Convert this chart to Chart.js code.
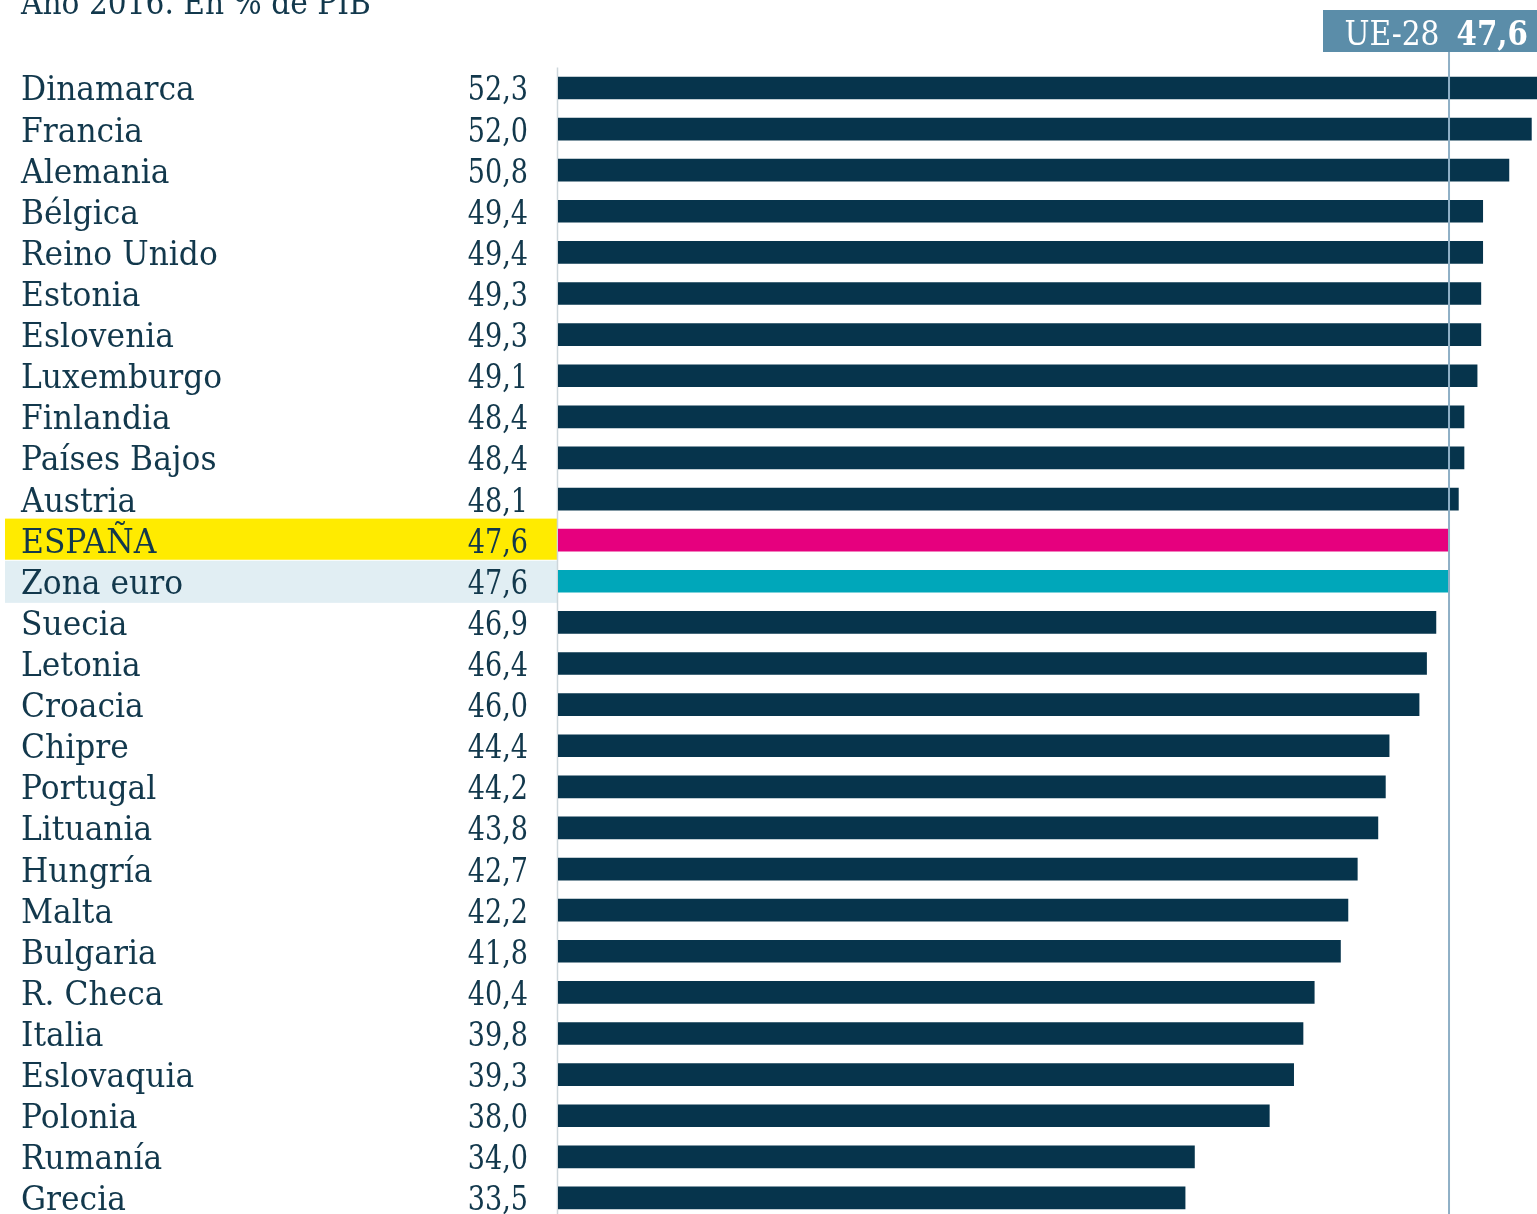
<!DOCTYPE html>
<html><head><meta charset="utf-8">
<script src="https://cdn.jsdelivr.net/npm/chart.js@4.4.1/dist/chart.umd.min.js"></script>
<style>html,body{margin:0;padding:0;overflow:hidden;background:#fff}canvas{display:block}</style>
</head><body>
<canvas id="c" width="1537" height="1230"></canvas>
<script>
const subtitle = 'Año 2016. En % de PIB';
const categories = ['Dinamarca','Francia','Alemania','Bélgica','Reino Unido','Estonia','Eslovenia','Luxemburgo','Finlandia','Países Bajos','Austria','ESPAÑA','Zona euro','Suecia','Letonia','Croacia','Chipre','Portugal','Lituania','Hungría','Malta','Bulgaria','R. Checa','Italia','Eslovaquia','Polonia','Rumanía','Grecia'];
const values = [52.3,52.0,50.8,49.4,49.4,49.3,49.3,49.1,48.4,48.4,48.1,47.6,47.6,46.9,46.4,46.0,44.4,44.2,43.8,42.7,42.2,41.8,40.4,39.8,39.3,38.0,34.0,33.5];
const refLabel = 'UE-28';
const refValue = 47.6;
const highlightSpain = 'ESPAÑA';
const highlightEuro = 'Zona euro';

const NAVY = '#06344c', TEXT = '#12384c', PINK = '#e6007e', TEAL = '#00a7ba';
const FONT = '"DejaVu Serif", serif';
const fmt = v => v.toFixed(1).replace('.', ',');
const barColors = categories.map(c => c === highlightSpain ? PINK : (c === highlightEuro ? TEAL : NAVY));

function drawText(ctx, txt, x, y, align, font, sx) {
  ctx.save();
  ctx.font = font;
  ctx.textAlign = align;
  ctx.textBaseline = 'alphabetic';
  ctx.translate(x, y);
  ctx.scale(sx, 1);
  ctx.fillText(txt, 0, 0);
  ctx.restore();
}
function textWidth(ctx, txt, font, sx) {
  ctx.save(); ctx.font = font; const w = ctx.measureText(txt).width * sx; ctx.restore(); return w;
}

const decor = {
  id: 'decor',
  beforeDatasetsDraw(chart) {
    const ctx = chart.ctx, y = chart.scales.y, area = chart.chartArea;
    const half = (y.getPixelForValue(1) - y.getPixelForValue(0)) / 2;
    ctx.save();
    categories.forEach((c, i) => {
      const cy = y.getPixelForValue(i);
      if (c === highlightSpain) { ctx.fillStyle = '#ffeb00'; ctx.fillRect(5, cy - half - 1, area.left - 6, half * 2); }
      if (c === highlightEuro) { ctx.fillStyle = '#e1eef3'; ctx.fillRect(5, cy - half, area.left - 6, half * 2 + 1); }
    });
    ctx.strokeStyle = '#cdd6db'; ctx.lineWidth = 1.5;
    ctx.beginPath(); ctx.moveTo(area.left - 0.5, area.top); ctx.lineTo(area.left - 0.5, chart.height); ctx.stroke();
    ctx.restore();
  },
  afterDatasetsDraw(chart) {
    const ctx = chart.ctx, y = chart.scales.y, x = chart.scales.x, area = chart.chartArea;
    ctx.save();
    const rx = x.getPixelForValue(refValue);
    ctx.strokeStyle = '#8fb0c6'; ctx.lineWidth = 2;
    ctx.beginPath(); ctx.moveTo(rx, 50); ctx.lineTo(rx, chart.height); ctx.stroke();
    ctx.fillStyle = '#5b8da9';
    ctx.fillRect(1323, 10, area.right - 1323, 42);
    ctx.fillStyle = '#ffffff';
    const vtxt = fmt(refValue);
    const bFont = 'bold 33px ' + FONT;
    const vw = textWidth(ctx, vtxt, bFont, 0.89);
    drawText(ctx, vtxt, 1528, 45, 'right', bFont, 0.89);
    drawText(ctx, refLabel, 1528 - vw - 17, 45, 'right', '33px ' + FONT, 0.9);
    ctx.fillStyle = TEXT;
    categories.forEach((c, i) => {
      const cy = y.getPixelForValue(i);
      drawText(ctx, c, 21, cy + 12.5, 'left', '33px ' + FONT, 0.95);
      drawText(ctx, fmt(values[i]), 528, cy + 12.5, 'right', '33px ' + FONT, 0.82);
    });
    drawText(ctx, subtitle, 21, 14, 'left', '33px ' + FONT, 0.9);
    ctx.restore();
  }
};

new Chart(document.getElementById('c'), {
  type: 'bar',
  data: { labels: categories, datasets: [{ data: values, backgroundColor: barColors, barThickness: 22, borderWidth: 0 }] },
  options: {
    indexAxis: 'y', responsive: false, animation: false,
    layout: { padding: { left: 558, right: 0, top: 67.4, bottom: 11.5 } },
    plugins: { legend: { display: false }, tooltip: { enabled: false } },
    scales: {
      x: { display: false, min: 0, max: 52.3 },
      y: { display: false, offset: true }
    }
  },
  plugins: [decor]
});
</script>
</body></html>
